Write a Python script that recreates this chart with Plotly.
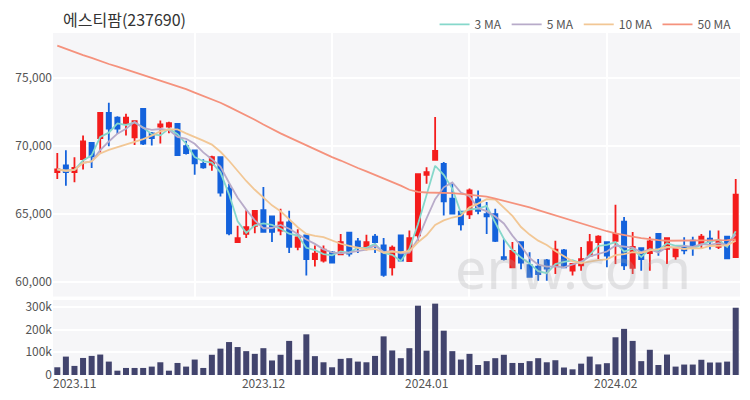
import plotly.graph_objects as go
import pandas as pd

# Trading days (KRX) Nov 2023 - Feb 2024
holidays = ["2023-12-25", "2023-12-29", "2024-01-01", "2024-02-09", "2024-02-12"]
dates = pd.bdate_range("2023-11-01", "2024-02-27", freq="C", holidays=holidays)
date_labels = [d.strftime("%Y-%m-%d") for d in dates]

open_ = [68100, 68600, 68100, 69050, 70250, 70600, 72450, 72100, 71700, 70650,
         72750, 70950, 71450, 71450, 71650, 70000, 69700, 68700, 68650, 69200,
         66900, 62950, 63550, 64150, 65300, 64850, 63800, 64400, 62600, 63450,
         61700, 61600, 62200, 62050, 63650, 63000, 62450, 63350, 62700, 61100,
         63450, 61550, 63450, 67900, 69000, 68700, 66150, 65200, 65000, 66100,
         65000, 65000, 61850, 61100, 62950, 61250, 61150, 61600, 61250, 62350,
         60850, 61250, 61950, 62950, 62950, 63050, 64450, 61050, 62500, 62150,
         63550, 62450, 61900, 62600, 63050, 62800, 63200, 62600, 63350, 61850]
high = [69500, 69700, 69200, 70800, 70250, 72450, 73200, 72200, 72400, 71900,
        72800, 71050, 71900, 71800, 71650, 70400, 69700, 69050, 69300, 69200,
        67250, 64150, 65300, 65250, 67000, 64850, 65400, 65250, 63900, 63450,
        62700, 62700, 62300, 63550, 63650, 63250, 63500, 63550, 63250, 62700,
        63450, 63800, 67950, 68450, 72150, 68850, 67250, 65200, 66900, 66750,
        65900, 65400, 63200, 62950, 62950, 62200, 61700, 61700, 63050, 62450,
        61400, 62600, 63550, 63450, 62950, 65700, 64800, 63700, 62550, 63350,
        63550, 63250, 62550, 63300, 63350, 63550, 63800, 63800, 63350, 67600]
low = [67600, 67100, 67350, 68300, 68400, 69550, 70000, 70900, 70800, 70100,
       70100, 70050, 70200, 70950, 69300, 69400, 67900, 68350, 68200, 66300,
       63450, 62950, 63250, 63600, 63650, 62950, 63450, 62150, 62350, 60500,
       61150, 61450, 61400, 62050, 61900, 62150, 62350, 62150, 60400, 60500,
       61600, 61550, 63050, 67250, 69000, 64900, 65050, 63800, 64650, 65000,
       63550, 62950, 61600, 61100, 60950, 60350, 60100, 60100, 60600, 61100,
       60500, 60850, 61850, 61700, 61100, 61350, 60900, 60600, 60850, 60850,
       61950, 61350, 61650, 62050, 61950, 62450, 62400, 62450, 61700, 61850]
close = [68300, 68100, 68400, 70350, 69250, 72450, 71300, 71300, 72100, 71850,
         70200, 70600, 71600, 71700, 69350, 69500, 68750, 68450, 69200, 66600,
         63600, 63250, 64050, 65250, 63700, 63700, 64400, 62600, 63300, 61700,
         62100, 62400, 61450, 62950, 62100, 62550, 62950, 62950, 60550, 62550,
         61600, 63250, 67950, 68100, 69650, 65950, 65050, 64250, 66750, 65250,
         64850, 63050, 61700, 62300, 61450, 60400, 60600, 61000, 62400, 61100,
         61350, 61700, 62950, 63350, 61950, 63550, 61250, 62600, 61700, 63000,
         62350, 63250, 62450, 62350, 62600, 63350, 63000, 63050, 61750, 66450]
volume = [34000, 81000, 40000, 75000, 84000, 90000, 59000, 19000, 31000, 31000,
          31000, 37000, 56000, 19000, 53000, 37000, 68000, 31000, 89000, 116000,
          145000, 123000, 105000, 93000, 118000, 64000, 89000, 150000, 67000, 179000,
          83000, 56000, 34000, 71000, 74000, 59000, 56000, 84000, 170000, 108000,
          74000, 118000, 305000, 107000, 314000, 195000, 105000, 68000, 93000, 44000,
          61000, 74000, 89000, 53000, 53000, 61000, 74000, 56000, 65000, 33000,
          25000, 50000, 81000, 47000, 52000, 166000, 203000, 150000, 61000, 111000,
          44000, 90000, 37000, 46000, 46000, 67000, 55000, 55000, 59000, 296000]
# 50-day moving average (needs history before the window)
ma50 = [77400, 77150, 76900, 76700, 76500, 76250, 76050, 75850, 75650, 75450,
        75250, 75050, 74850, 74650, 74450, 74200, 73950, 73700, 73500, 73200,
        72900, 72600, 72300, 71950, 71600, 71250, 70950, 70650, 70350, 70050,
        69800, 69500, 69200, 68950, 68650, 68400, 68150, 67900, 67650, 67350,
        67100, 66800, 66650, 66600, 66600, 66600, 66550, 66500, 66450, 66400,
        66300, 66150, 66000, 65850, 65700, 65500, 65300, 65100, 64900, 64700,
        64500, 64300, 64100, 63900, 63750, 63600, 63450, 63350, 63250, 63150,
        63100, 63050, 63050, 63050, 63050, 63050, 63050, 63100, 63100, 63150]

tick_labels = ["2023.11", "2023.12", "2024.01", "2024.02"]
ma_names = ["3 MA", "5 MA", "10 MA", "50 MA"]
ma_colors = ["#86d8cb", "#b8abc9", "#f2c795", "#f5927d"]

x = list(range(len(date_labels)))
month_starts = [i for i in range(len(date_labels))
                if i == 0 or date_labels[i][:7] != date_labels[i - 1][:7]]

closes = pd.Series(close)
ma_series = [closes.rolling(3, min_periods=1).mean().tolist(),
             closes.rolling(5, min_periods=1).mean().tolist(),
             closes.rolling(10, min_periods=1).mean().tolist(),
             ma50]

RED = "#f41c1c"
BLUE = "#1462dc"

fig = go.Figure()
fig.add_trace(go.Candlestick(
    x=x, open=open_, high=high, low=low, close=close,
    increasing=dict(line=dict(color=RED, width=1.8), fillcolor=RED),
    decreasing=dict(line=dict(color=BLUE, width=1.8), fillcolor=BLUE),
    showlegend=False, hoverinfo="skip", xaxis="x", yaxis="y"))
for name, col, vals in zip(ma_names, ma_colors, ma_series):
    fig.add_trace(go.Scatter(x=x, y=vals, mode="lines", name=name,
                             line=dict(color=col, width=1.8),
                             xaxis="x", yaxis="y"))
fig.add_trace(go.Bar(x=x, y=volume, marker=dict(color="#42446d", line=dict(width=0)),
                     width=0.7, showlegend=False, xaxis="x2", yaxis="y2"))

fig.add_annotation(text="enw.com", xref="x", yref="y", x=60, y=61150,
                   showarrow=False, font=dict(size=56, color="rgba(170,170,170,0.28)",
                                              family="Noto Sans"))

font_family = "Noto Sans CJK KR"
fig.update_layout(
    width=750, height=400,
    margin=dict(l=53, r=10, t=33, b=25, autoexpand=False),
    paper_bgcolor="white", plot_bgcolor="#f6f6f8",
    font=dict(family=font_family, size=12, color="#555"),
    title=dict(text="에스티팜(237690)", x=63 / 750, xanchor="left", xref="container",
               y=1 - 20 / 400, yanchor="middle", yref="container",
               font=dict(size=16, color="#333", family=font_family)),
    legend=dict(orientation="h", x=0.995, xanchor="right", y=1.025, yanchor="middle",
                font=dict(size=12, color="#555"), bgcolor="rgba(0,0,0,0)",
                itemwidth=30, tracegroupgap=0),
    xaxis=dict(domain=[0, 1], anchor="y", range=[-0.5, len(x) - 0.5], automargin=False,
               rangeslider=dict(visible=False), showticklabels=False, ticks="",
               showgrid=False, zeroline=False,
               minor=dict(tickmode="array", tickvals=[16, 32, 48, 64], showgrid=True,
                          gridcolor="white", gridwidth=1.5, ticks="")),
    xaxis2=dict(domain=[0, 1], anchor="y2", matches="x", range=[-0.5, len(x) - 0.5],
                automargin=False,
                tickmode="array", tickvals=[i - 0.5 for i in month_starts],
                ticktext=tick_labels, ticklabelposition="outside right", ticks="",
                showgrid=False, zeroline=False, tickfont=dict(size=12, color="#555")),
    yaxis=dict(domain=[0.2295, 1], range=[58950, 78330], tickmode="linear",
               tick0=60000, dtick=5000, tickformat=",", gridcolor="white", automargin=False,
               gridwidth=1.5, zeroline=False, ticks="", ticklen=0),
    yaxis2=dict(domain=[0, 0.2193], range=[0, 330000], tickmode="array", automargin=False,
                tickvals=[0, 100000, 200000, 300000], ticktext=["0", "100k", "200k", "300k"],
                gridcolor="white", gridwidth=1.5, zeroline=False, ticks=""),
)

fig.write_html("out.html", config={"displayModeBar": False},
               post_script="document.body.style.margin='0';")
